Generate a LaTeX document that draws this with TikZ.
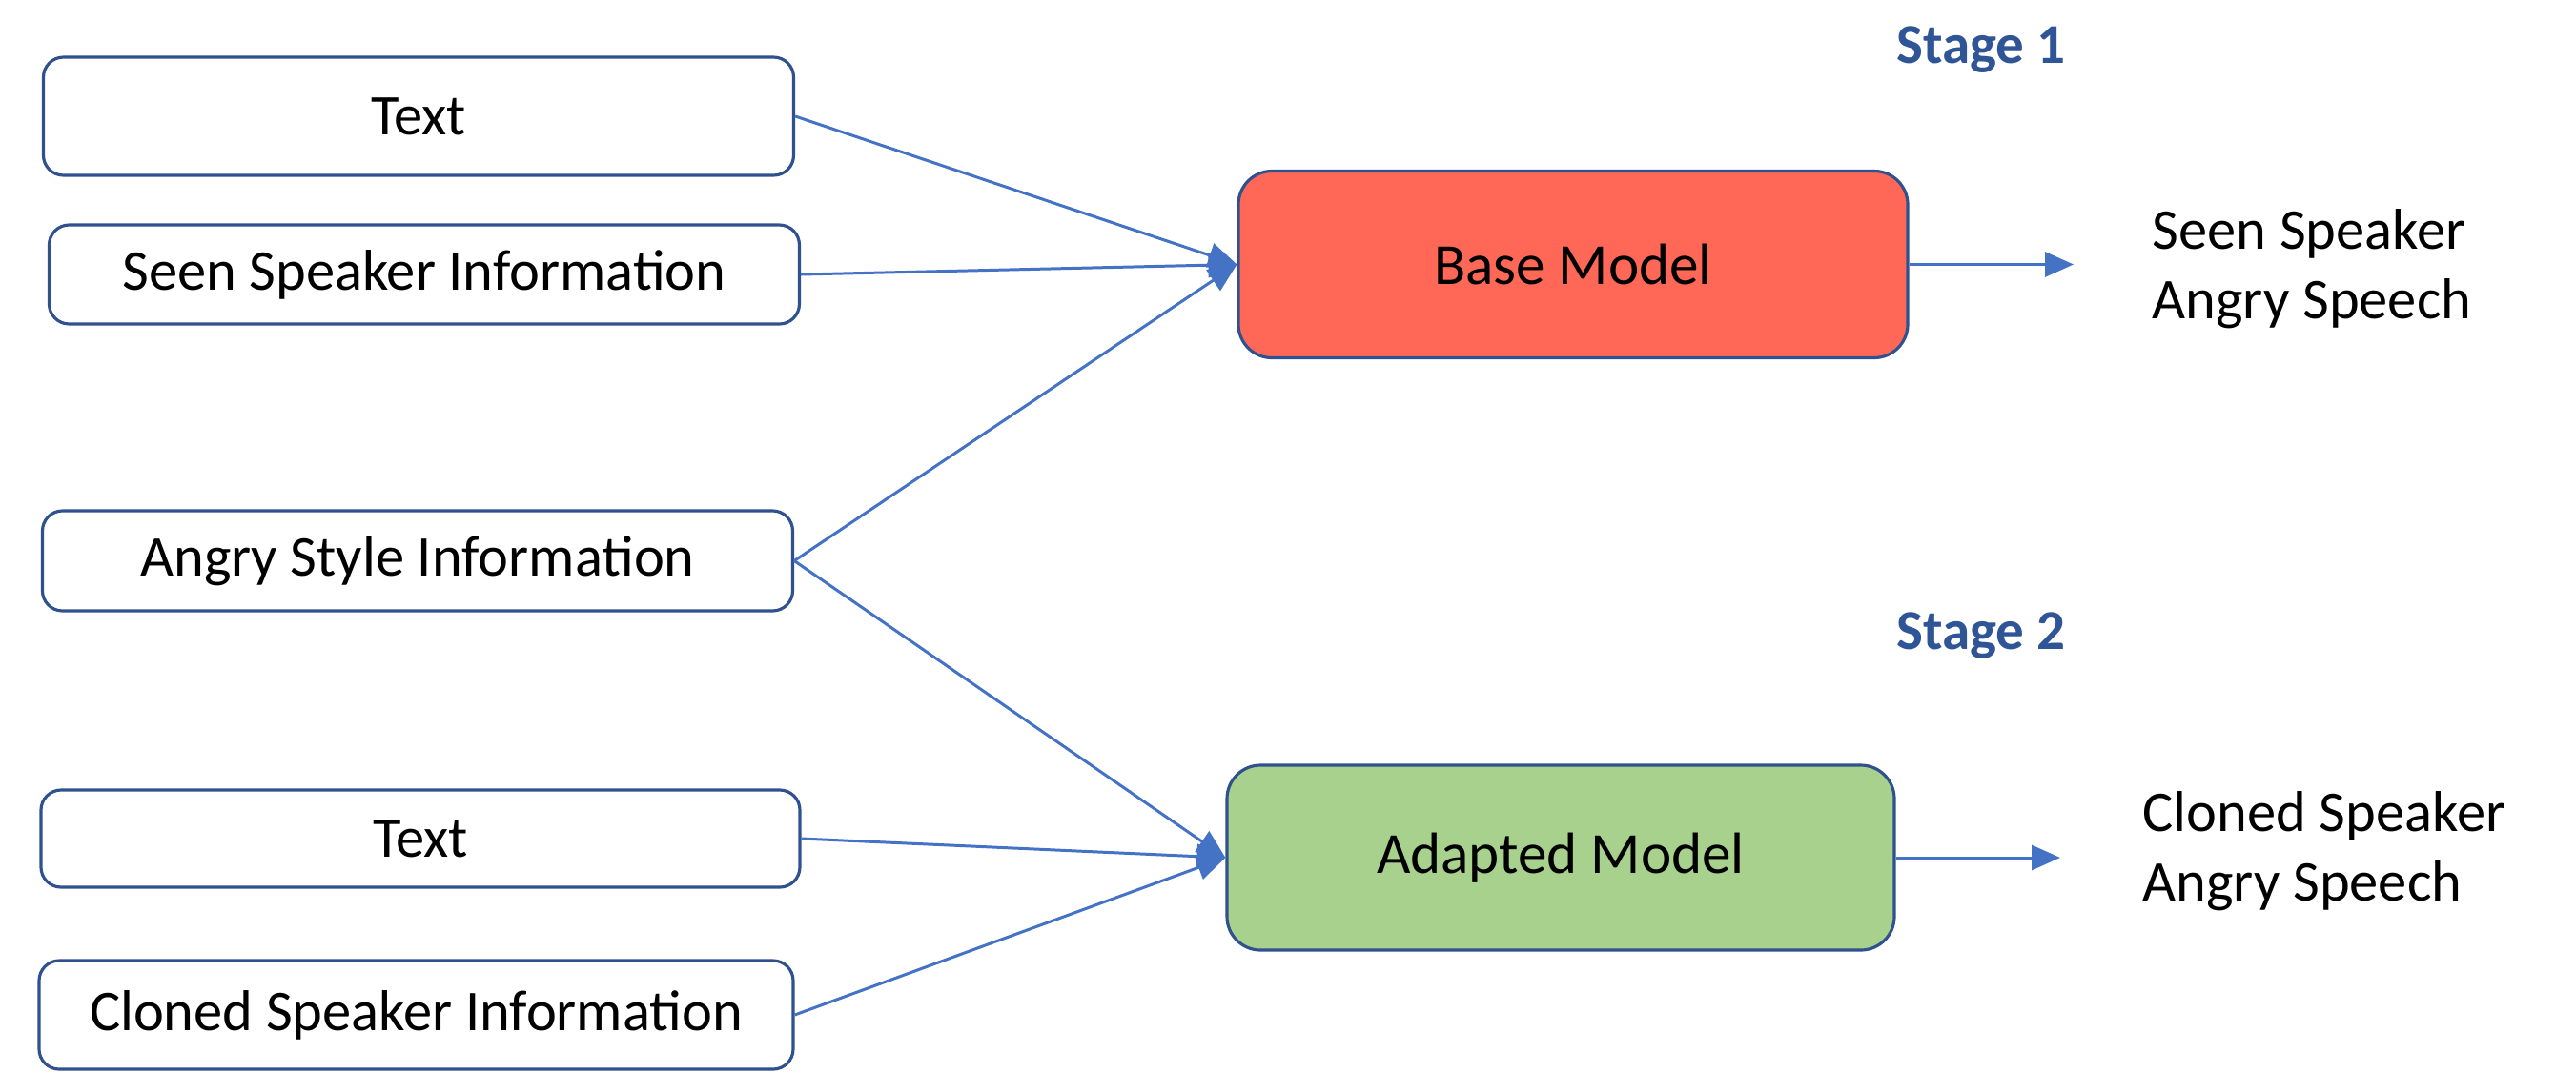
\documentclass[tikz,border=0pt]{standalone}
\usepackage{fontspec}
\setmainfont{Carlito}
\usetikzlibrary{arrows.meta,positioning}
\definecolor{Frame}{HTML}{2F528F}
\definecolor{Link}{HTML}{4472C4}
\definecolor{Salmon}{HTML}{FF6757}
\definecolor{Leaf}{HTML}{A9D18E}
\definecolor{StageBlue}{HTML}{2F5597}
\tikzset{
  inbox/.style={
    rounded corners=6pt, draw=Frame, line width=0.9pt, fill=white,
    minimum width=7.87cm, minimum height=1.04cm, align=center,
    font=\fontsize{17.2}{20}\selectfont
  },
  model/.style={
    rounded corners=10pt, draw=Frame, line width=0.9pt,
    minimum width=7.02cm, minimum height=1.96cm, align=center,
    font=\fontsize{17.4}{20}\selectfont
  },
  stagelabel/.style={text=StageBlue, font=\fontsize{16.8}{20}\selectfont\bfseries},
  outtext/.style={anchor=west, align=left, inner sep=0pt,
    font=\fontsize{17.2}{20.6}\selectfont},
  flow/.style={-{Triangle[length=3mm,width=2.6mm]}, line width=0.85pt, draw=Link}
}
\begin{document}
\begin{tikzpicture}[x=1cm,y=1cm]
  \useasboundingbox (0,0) rectangle (27.02,-11.25);

  % inputs
  \node[inbox,minimum height=1.24cm] (txtA) at (4.39,-1.22) {Text};
  \node[inbox] (seen) at (4.45,-2.88) {Seen Speaker Information};
  \node[inbox,minimum height=1.05cm] (angry) at (4.38,-5.885) {Angry Style Information};
  \node[inbox,minimum height=1.02cm,minimum width=7.96cm] (txtB) at (4.41,-8.80) {Text};
  \node[inbox,minimum height=1.14cm,minimum width=7.91cm] (cloned) at (4.365,-10.65)
    {Cloned Speaker Information};

  % models
  \node[model,fill=Salmon] (base) at (16.50,-2.775) {Base Model};
  \node[model,fill=Leaf,minimum width=7.0cm,minimum height=1.94cm] (adapted) at (16.37,-9.00)
    {Adapted Model};

  \node[stagelabel] (stage1) at (20.78,-0.52) {Stage 1};
  \node[stagelabel] (stage2) at (20.78,-6.67) {Stage 2};

  % outputs
  \coordinate (endA) at (21.75,-2.775);
  \coordinate (endB) at (21.61,-9.00);
  \node[outtext] (outA) at (22.57,-2.82) {Seen Speaker\\Angry Speech};
  \node[outtext] (outB) at (22.47,-8.93) {Cloned Speaker\\Angry Speech};

  \draw[flow] (txtA.east) -- (base.west);
  \draw[flow] (seen.east) -- (base.west);
  \draw[flow] (angry.east) -- (base.west);
  \draw[flow] (angry.east) -- (adapted.west);
  \draw[flow] (txtB.east) -- (adapted.west);
  \draw[flow] (cloned.east) -- (adapted.west);
  \draw[flow] (base.east) -- (endA);
  \draw[flow] (adapted.east) -- (endB);
\end{tikzpicture}
\end{document}
